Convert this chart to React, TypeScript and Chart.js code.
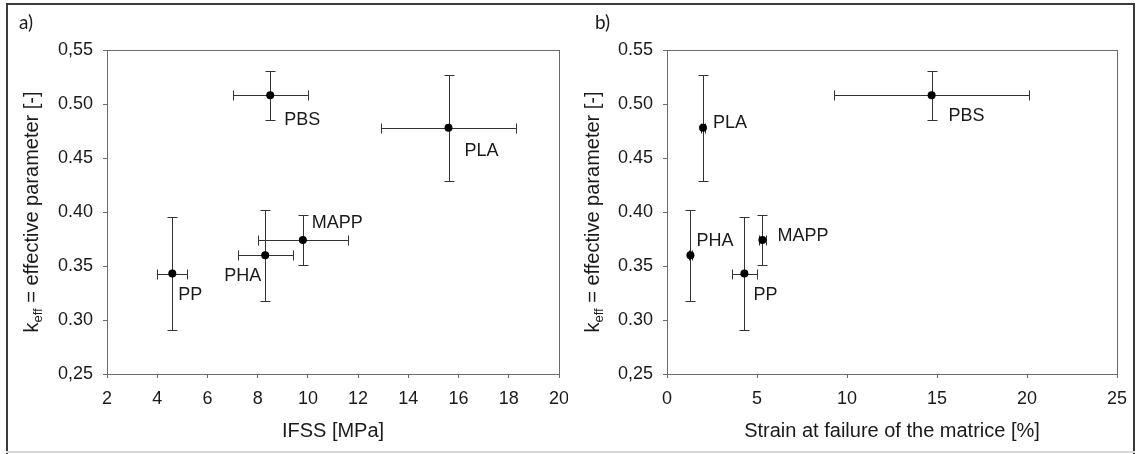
import React, { useEffect, useRef } from "react";
import { Chart, registerables } from "chart.js";

Chart.register(...registerables);

// ---------------- data ----------------
const materials = ["PP", "MAPP", "PHA", "PLA", "PBS"];
const keff = [0.343, 0.374, 0.36, 0.478, 0.508];
const keffErr = [0.052, 0.023, 0.042, 0.049, 0.023];
const ifss = [4.6, 9.8, 8.3, 15.6, 8.5];
const ifssErr = [0.6, 1.8, 1.1, 2.7, 1.5];
const strain = [4.3, 5.3, 1.3, 2.0, 14.7];
const strainErr = [0.7, 0.2, 0.1, 0.1, 5.4];

const xTicksA = [2, 4, 6, 8, 10, 12, 14, 16, 18, 20];
const xTicksB = [0, 5, 10, 15, 20, 25];
const yTicks = [0.25, 0.3, 0.35, 0.4, 0.45, 0.5, 0.55];
const yTickLabelsA = ["0,25", "0.30", "0.35", "0.40", "0.45", "0.50", "0,55"];
const yTickLabelsB = ["0,25", "0.30", "0.35", "0.40", "0.45", "0.50", "0.55"];

const xTitleA = "IFSS [MPa]";
const xTitleB = "Strain at failure of the matrice [%]";
const panelA = "a)";
const panelB = "b)";

// label placement (pixel offsets from point) – styling only
const labelOffsetsA = [[6, 21], [9, -17], [-41, 21], [16, 23], [14, 25]];
const labelOffsetsB = [[9, 21], [15, -4], [6, -14], [10, -5], [17, 21]];

const FONT = "Arial, 'Liberation Sans', sans-serif";
const AXIS_COLOR = "#6a6a6a";
const TEXT_COLOR = "#1a1a1a";

type PanelCfg = {
  xs: number[];
  xe: number[];
  offsets: number[][];
  xTitle: string;
  xTitleX: number;
  yTitleX: number;
  letter: string;
  letterX: number;
};

function makePlugin(cfg: PanelCfg) {
  return {
    id: "panelDecor",
    beforeDatasetsDraw(chart: any) {
      const { ctx, scales } = chart;
      const x = scales.x;
      const y = scales.y;
      ctx.save();
      ctx.strokeStyle = "#333";
      ctx.lineWidth = 1;
      const cap = 5;
      for (let i = 0; i < materials.length; i++) {
        const px = Math.round(x.getPixelForValue(cfg.xs[i])) + 0.5;
        const py = Math.round(y.getPixelForValue(keff[i])) + 0.5;
        if (cfg.xe[i] > 0) {
          const x1 = Math.round(x.getPixelForValue(cfg.xs[i] - cfg.xe[i])) + 0.5;
          const x2 = Math.round(x.getPixelForValue(cfg.xs[i] + cfg.xe[i])) + 0.5;
          ctx.beginPath();
          ctx.moveTo(x1, py);
          ctx.lineTo(x2, py);
          ctx.moveTo(x1, py - cap);
          ctx.lineTo(x1, py + cap);
          ctx.moveTo(x2, py - cap);
          ctx.lineTo(x2, py + cap);
          ctx.stroke();
        }
        const y1 = Math.round(y.getPixelForValue(keff[i] + keffErr[i])) + 0.5;
        const y2 = Math.round(y.getPixelForValue(keff[i] - keffErr[i])) + 0.5;
        ctx.beginPath();
        ctx.moveTo(px, y1);
        ctx.lineTo(px, y2);
        ctx.moveTo(px - cap, y1);
        ctx.lineTo(px + cap, y1);
        ctx.moveTo(px - cap, y2);
        ctx.lineTo(px + cap, y2);
        ctx.stroke();
      }
      ctx.restore();
    },
    afterDraw(chart: any) {
      const { ctx, chartArea, scales } = chart;
      const x = scales.x;
      const y = scales.y;
      ctx.save();
      ctx.strokeStyle = AXIS_COLOR;
      ctx.lineWidth = 1;
      ctx.strokeRect(
        Math.round(chartArea.left) + 0.5,
        Math.round(chartArea.top) + 0.5,
        Math.round(chartArea.right - chartArea.left),
        Math.round(chartArea.bottom - chartArea.top)
      );
      ctx.fillStyle = TEXT_COLOR;
      ctx.font = `18px ${FONT}`;
      ctx.textAlign = "left";
      ctx.textBaseline = "middle";
      for (let i = 0; i < materials.length; i++) {
        const px = x.getPixelForValue(cfg.xs[i]);
        const py = y.getPixelForValue(keff[i]);
        ctx.fillText(materials[i], px + cfg.offsets[i][0], py + cfg.offsets[i][1]);
      }
      ctx.font = `20px ${FONT}`;
      ctx.textAlign = "center";
      ctx.fillText(cfg.xTitle, cfg.xTitleX, 431);
      ctx.translate(cfg.yTitleX, 212);
      ctx.rotate(-Math.PI / 2);
      const big = `20px ${FONT}`;
      const small = `13px ${FONT}`;
      const rest = " = effective parameter [-]";
      ctx.font = big;
      const wk = ctx.measureText("k").width;
      const wr = ctx.measureText(rest).width;
      ctx.font = small;
      const ws = ctx.measureText("eff").width;
      const total = wk + ws + wr;
      let cx = -total / 2;
      ctx.textAlign = "left";
      ctx.textBaseline = "alphabetic";
      ctx.font = big;
      ctx.fillText("k", cx, 7);
      cx += wk;
      ctx.font = small;
      ctx.fillText("eff", cx, 11);
      cx += ws;
      ctx.font = big;
      ctx.fillText(rest, cx, 7);
      ctx.restore();
      ctx.save();
      ctx.fillStyle = TEXT_COLOR;
      ctx.font = `19px Lato, 'Open Sans', sans-serif`;
      ctx.textAlign = "left";
      ctx.textBaseline = "middle";
      ctx.fillText(cfg.letter, cfg.letterX, 23);
      ctx.restore();
    },
  };
}

function buildChart(
  canvas: HTMLCanvasElement,
  xs: number[],
  xTicks: number[],
  yLabels: string[],
  yAxisWidth: number,
  padRight: number,
  plugin: any
) {
  return new Chart(canvas, {
    type: "scatter",
    data: {
      datasets: [
        {
          data: xs.map((v, i) => ({ x: v, y: keff[i] })),
          backgroundColor: "#000",
          borderColor: "#000",
          pointRadius: 4,
          pointHoverRadius: 4,
          borderWidth: 0,
        },
      ],
    },
    options: {
      responsive: false,
      animation: false,
      devicePixelRatio: 1,
      layout: { padding: { left: 0, top: 50, right: padRight, bottom: 0 } },
      plugins: {
        legend: { display: false },
        tooltip: { enabled: false },
      },
      scales: {
        x: {
          type: "linear",
          min: xTicks[0],
          max: xTicks[xTicks.length - 1],
          afterBuildTicks: (s: any) => {
            s.ticks = xTicks.map((v) => ({ value: v }));
          },
          afterFit: (s: any) => {
            s.height = 80;
            s.paddingLeft = 0;
            s.paddingRight = 0;
          },
          grid: {
            drawOnChartArea: false,
            drawTicks: true,
            tickLength: 4,
            color: AXIS_COLOR,
          },
          border: { color: AXIS_COLOR, width: 1 },
          ticks: {
            font: { family: FONT, size: 18 },
            color: TEXT_COLOR,
            padding: 10,
            maxRotation: 0,
            autoSkip: false,
            callback: (v: any) => String(v),
          },
        },
        y: {
          type: "linear",
          min: yTicks[0],
          max: yTicks[yTicks.length - 1],
          afterBuildTicks: (s: any) => {
            s.ticks = yTicks.map((v) => ({ value: v }));
          },
          afterFit: (s: any) => {
            s.width = yAxisWidth;
            s.paddingTop = 0;
            s.paddingBottom = 0;
          },
          grid: {
            drawOnChartArea: false,
            drawTicks: true,
            tickLength: 4,
            color: AXIS_COLOR,
          },
          border: { color: AXIS_COLOR, width: 1 },
          ticks: {
            font: { family: FONT, size: 18 },
            color: TEXT_COLOR,
            padding: 10,
            autoSkip: false,
            callback: (v: any) => {
              const idx = yTicks.findIndex((t) => Math.abs(t - v) < 1e-9);
              return idx >= 0 ? yLabels[idx] : "";
            },
          },
        },
      },
    } as any,
    plugins: [plugin],
  });
}

export default function App() {
  const refA = useRef<HTMLCanvasElement>(null);
  const refB = useRef<HTMLCanvasElement>(null);

  useEffect(() => {
    document.body.style.margin = "0";
    let a: Chart | null = null;
    let b: Chart | null = null;
    let cancelled = false;
    const create = () => {
      if (cancelled) return;
      a = buildChart(
        refA.current!,
        ifss,
        xTicksA,
        yTickLabelsA,
        107,
        9,
        makePlugin({
          xs: ifss,
          xe: ifssErr,
          offsets: labelOffsetsA,
          xTitle: xTitleA,
          xTitleX: 333,
          yTitleX: 31,
          letter: panelA,
          letterX: 19,
        })
      );
      b = buildChart(
        refB.current!,
        strain,
        xTicksB,
        yTickLabelsB,
        99,
        19,
        makePlugin({
          xs: strain,
          xe: strainErr,
          offsets: labelOffsetsB,
          xTitle: xTitleB,
          xTitleX: 892 - 568,
          yTitleX: 592 - 568,
          letter: panelB,
          letterX: 595 - 568,
        })
      );
    };
    const fonts: any = (document as any).fonts;
    if (fonts && fonts.load) {
      Promise.all([
        fonts.load("18px 'Liberation Sans'"),
        fonts.load("18px Arial"),
        fonts.load("19px Lato"),
      ])
        .catch(() => null)
        .then(create);
    } else {
      create();
    }
    return () => {
      cancelled = true;
      if (a) a.destroy();
      if (b) b.destroy();
    };
  }, []);

  return (
    <div style={{ position: "relative", width: 1136, height: 454, background: "#fff", overflow: "hidden" }}>
      <canvas ref={refA} width={568} height={454} style={{ position: "absolute", left: 0, top: 0, width: 568, height: 454 }} />
      <canvas ref={refB} width={568} height={454} style={{ position: "absolute", left: 568, top: 0, width: 568, height: 454 }} />
      <div style={{ position: "absolute", left: 6, top: 3, width: 1128, height: 2, background: "#3a3a3a" }} />
      <div style={{ position: "absolute", left: 6, top: 3, width: 2, height: 451, background: "#3a3a3a" }} />
      <div style={{ position: "absolute", left: 1133, top: 3, width: 2, height: 451, background: "#3a3a3a" }} />
      <div style={{ position: "absolute", left: 6, top: 451, width: 1129, height: 2, background: "#d8d8d8" }} />
    </div>
  );
}
